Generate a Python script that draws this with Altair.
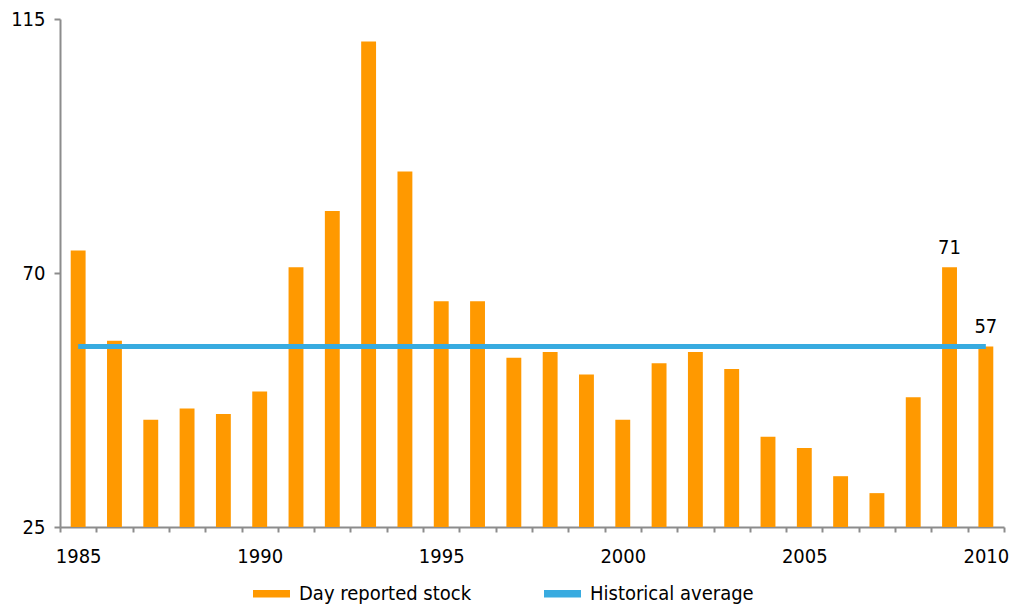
import altair as alt
import pandas as pd

# ---- data ----
years = list(range(1985, 2011))
stock = [74, 58, 44, 46, 45, 49, 71, 81, 111, 88, 65, 65, 55, 56, 52,
         44, 54, 56, 53, 41, 39, 34, 31, 48, 71, 57]
historical_average = 57
labelled_years = [2009, 2010]
y_ticks = [25, 70, 115]
y_min, y_max = 25, 115

bar_name = "Day reported stock"
line_name = "Historical average"
ORANGE = "#FF9900"
BLUE = "#38ABE0"
AXIS_GREY = "#8C8C8C"
FONT = "DejaVu Sans Condensed, DejaVu Sans"
FS = 20

bars_df = pd.DataFrame({"year": years, "value": stock, "series": bar_name})
bars_df["label"] = [str(v) if y in labelled_years else "" for y, v in zip(years, stock)]
line_df = pd.DataFrame({"year": years,
                        "value": [historical_average] * len(years),
                        "series": line_name})

x_enc = alt.X(
    "year:O",
    title=None,
    scale=alt.Scale(paddingInner=0, paddingOuter=0),
    axis=alt.Axis(
        labelExpr="datum.value % 5 == 0 ? datum.label : ''",
        labelAngle=0,
        tickBand="extent",
        domainColor=AXIS_GREY, domainWidth=2,
        tickColor=AXIS_GREY, tickWidth=2, tickSize=5,
        labelFont=FONT, labelFontSize=FS, labelColor="#000000",
        labelPadding=14, grid=False,
    ),
)
y_scale = alt.Scale(domain=[y_min, y_max], zero=False, nice=False)
y_enc = alt.Y(
    "value:Q", title=None, scale=y_scale,
    axis=alt.Axis(
        values=y_ticks, grid=False,
        domainColor=AXIS_GREY, domainWidth=2,
        tickColor=AXIS_GREY, tickWidth=2, tickSize=6,
        labelFont=FONT, labelFontSize=FS, labelColor="#000000",
        labelPadding=9,
    ),
)

color_enc = alt.Color(
    "series:N",
    scale=alt.Scale(domain=[bar_name, line_name], range=[ORANGE, BLUE]),
    legend=alt.Legend(
        title=None, orient="none", direction="horizontal",
        legendX=193, legendY=556,
        labelFont=FONT, labelFontSize=FS, labelColor="#000000",
        symbolType="M-1,-0.2H1V0.2H-1Z",
        symbolSize=1369, labelOffset=9, columnPadding=72,
        symbolStrokeWidth=0, symbolOpacity=1,
        labelLimit=400,
    ),
)

bars = alt.Chart(bars_df).mark_bar(width=alt.RelativeBandSize(0.41)).encode(
    x=x_enc, y=y_enc, y2=alt.datum(y_min), color=color_enc
)

line = alt.Chart(line_df).mark_line(strokeWidth=5).encode(
    x="year:O", y=alt.Y("value:Q", scale=y_scale), color=color_enc
)

labels = alt.Chart(bars_df).mark_text(
    font=FONT, fontSize=FS, color="#000000", dy=-13, baseline="alphabetic"
).encode(
    x="year:O", y=alt.Y("value:Q", scale=y_scale), text="label:N"
)

chart = alt.layer(bars, line, labels).properties(
    width=944, height=508,
    autosize=alt.AutoSizeParams(type="none"),
    padding={"left": 52, "top": 11, "right": 6, "bottom": 79},
).configure_view(stroke=None)

chart.save("out.html", embed_options={"renderer": "svg", "actions": False})
